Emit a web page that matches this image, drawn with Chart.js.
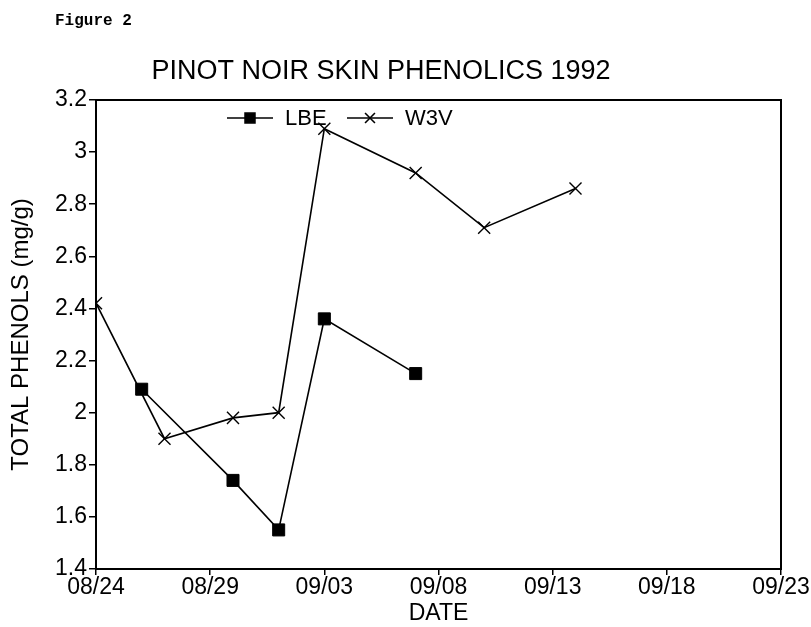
<!DOCTYPE html>
<html>
<head>
<meta charset="utf-8">
<script src="https://cdn.jsdelivr.net/npm/chart.js@4.4.1/dist/chart.umd.min.js"></script>
<style>
  html, body { margin: 0; padding: 0; background: #fff; }
  #wrap { position: relative; width: 811px; height: 627px; }
</style>
</head>
<body>
<div id="wrap"><canvas id="phenolChart" width="811" height="627"></canvas></div>
<script>
// days after 08/24/1992
const dateTicks = ['08/24', '08/29', '09/03', '09/08', '09/13', '09/18', '09/23'];
const lbeDays = [2, 6, 8, 10, 14];
const lbeValues = [2.09, 1.74, 1.55, 2.36, 2.15];
const w3vDays = [0, 3, 6, 8, 10, 14, 17, 21];
const w3vValues = [2.42, 1.90, 1.98, 2.00, 3.09, 2.92, 2.71, 2.86];

const FONT = "'Liberation Sans', Arial, sans-serif";

// frame round the plot area
const framePlugin = {
    id: 'frame',
    afterDatasetsDraw(chart) {
        const {ctx, chartArea: a} = chart;
        ctx.save();
        ctx.strokeStyle = '#000';
        ctx.lineWidth = 2;
        ctx.strokeRect(a.left, a.top, a.right - a.left, a.bottom - a.top);
        ctx.restore();
    }
};

// figure label, title and the inline legend
const textPlugin = {
    id: 'texts',
    afterDraw(chart) {
        const ctx = chart.ctx;
        ctx.save();
        ctx.fillStyle = '#000';
        ctx.textBaseline = 'alphabetic';
        ctx.font = "bold 16px 'Liberation Mono', monospace";
        ctx.textAlign = 'left';
        ctx.fillText('Figure 2', 55, 25);

        ctx.font = '27px ' + FONT;
        ctx.textAlign = 'center';
        ctx.fillText('PINOT NOIR SKIN PHENOLICS 1992', 381, 79);

        // legend
        const items = [{x: 227, tx: 285}, {x: 347, tx: 405}];
        ctx.font = '22px ' + FONT;
        ctx.textAlign = 'left';
        ctx.textBaseline = 'middle';
        chart.data.datasets.forEach((ds, i) => {
            const it = items[i];
            const y = 118;
            ctx.strokeStyle = '#000';
            ctx.lineWidth = 1.6;
            ctx.beginPath();
            ctx.moveTo(it.x, y);
            ctx.lineTo(it.x + 46, y);
            ctx.stroke();
            Chart.helpers.drawPoint(ctx, {
                pointStyle: ds.pointStyle,
                radius: 7,
                borderWidth: ds.pointBorderWidth || 1.6,
                rotation: 0
            }, it.x + 23, y);
            ctx.fillStyle = '#000';
            ctx.fillText(ds.label, it.tx, y + 1);
        });
        ctx.restore();
    }
};

new Chart(document.getElementById('phenolChart'), {
    type: 'line',
    data: {
        datasets: [
            {
                label: 'LBE',
                data: lbeDays.map((d, i) => ({x: d, y: lbeValues[i]})),
                borderColor: '#000',
                backgroundColor: '#000',
                borderWidth: 1.6,
                pointStyle: 'rect',
                pointRadius: 8.5,
                pointBorderWidth: 1,
                pointBackgroundColor: '#000',
                pointBorderColor: '#000'
            },
            {
                label: 'W3V',
                data: w3vDays.map((d, i) => ({x: d, y: w3vValues[i]})),
                borderColor: '#000',
                backgroundColor: '#000',
                borderWidth: 1.6,
                pointStyle: 'crossRot',
                pointRadius: 8.5,
                pointBorderWidth: 1.4,
                pointBorderColor: '#000'
            }
        ]
    },
    options: {
        responsive: false,
        animation: false,
        layout: {padding: {left: 0, right: 30, top: 100, bottom: 0}},
        plugins: {
            legend: {display: false},
            tooltip: {enabled: false}
        },
        scales: {
            x: {
                type: 'linear',
                min: 0,
                max: 30,
                afterBuildTicks: s => { s.ticks = dateTicks.map((t, i) => ({value: i * 5})); },
                ticks: {
                    callback: (v) => dateTicks[v / 5],
                    color: '#000',
                    font: {family: FONT, size: 23},
                    padding: -1,
                    maxRotation: 0
                },
                grid: {drawOnChartArea: false, drawTicks: true, tickLength: 6, color: '#000', lineWidth: 1.5},
                border: {display: true, color: '#000', width: 2},
                title: {display: true, text: 'DATE', color: '#000', font: {family: FONT, size: 23}, padding: {top: -7, bottom: 0}},
                afterFit: s => { s.height = 58; }
            },
            y: {
                min: 1.4,
                max: 3.2,
                afterBuildTicks: s => {
                    const t = [];
                    for (let k = 0; k <= 9; k++) t.push({value: Math.round((1.4 + k * 0.2) * 10) / 10});
                    s.ticks = t;
                },
                ticks: {
                    callback: v => String(v),
                    color: '#000',
                    font: {family: FONT, size: 23},
                    padding: 2
                },
                grid: {drawOnChartArea: false, drawTicks: true, tickLength: 7, color: '#000', lineWidth: 1.5},
                border: {display: true, color: '#000', width: 2},
                title: {display: true, text: 'TOTAL PHENOLS (mg/g)', color: '#000', font: {family: FONT, size: 24}, padding: {top: 7, bottom: 0}},
                afterFit: s => { s.width = 96; }
            }
        }
    },
    plugins: [framePlugin, textPlugin]
});
</script>
</body>
</html>
